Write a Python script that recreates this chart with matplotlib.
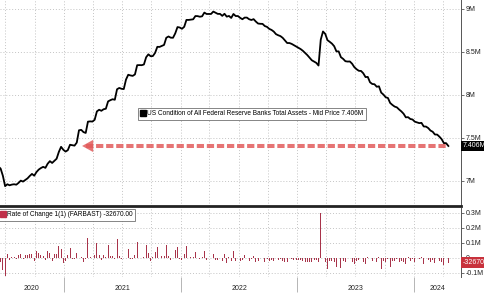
import numpy as np
import pandas as pd
import matplotlib
matplotlib.use('Agg')
import matplotlib.pyplot as plt
import matplotlib.dates as mdates
from matplotlib.lines import Line2D

plt.rcParams['font.family'] = ['Liberation Sans', 'DejaVu Sans']

# Fed total assets, weekly (Wednesdays), in M (= million millions)
assets_2020 = [7.212, 7.168, 7.143, 7.060, 6.940, 6.962, 6.950, 6.958, 6.962,
               6.957, 6.978, 7.004, 6.993, 7.011, 7.030, 7.058, 7.082, 7.061,
               7.103, 7.132, 7.150, 7.164, 7.152, 7.200, 7.230, 7.209,
               7.234, 7.258, 7.337, 7.396, 7.362]
assets_2021 = [7.341, 7.357, 7.420, 7.415,
               7.410, 7.445, 7.588, 7.593,
               7.567, 7.557, 7.688, 7.691, 7.689,
               7.710, 7.807, 7.826, 7.814,
               7.832, 7.838, 7.923, 7.937,
               7.948, 7.942, 8.064, 8.079, 8.069,
               8.066, 8.176, 8.232, 8.224,
               8.219, 8.236, 8.343, 8.344,
               8.343, 8.351, 8.435, 8.469, 8.447,
               8.449, 8.486, 8.556, 8.555,
               8.566, 8.578, 8.661, 8.676,
               8.662, 8.661, 8.712, 8.785, 8.780]
assets_2022 = [8.765, 8.788, 8.868, 8.868,
               8.872, 8.875, 8.913, 8.912,
               8.905, 8.910, 8.953, 8.937, 8.937,
               8.937, 8.965, 8.951, 8.938,
               8.938, 8.915, 8.939, 8.906,
               8.914, 8.891, 8.937, 8.913, 8.913,
               8.892, 8.876, 8.895, 8.895,
               8.876, 8.867, 8.877, 8.849, 8.826,
               8.823, 8.822, 8.797, 8.787,
               8.764, 8.752, 8.733, 8.703,
               8.690, 8.680, 8.660, 8.630, 8.600,
               8.600, 8.590, 8.575, 8.560]
assets_2023 = [8.545, 8.530, 8.510, 8.485,
               8.460, 8.430, 8.400, 8.385,
               8.370, 8.339, 8.639, 8.734, 8.706,
               8.633, 8.614, 8.593, 8.563,
               8.503, 8.503, 8.436, 8.416, 8.389,
               8.385, 8.386, 8.360, 8.320,
               8.296, 8.278, 8.276, 8.249,
               8.205, 8.207, 8.145, 8.125, 8.122,
               8.093, 8.098, 8.025, 8.002,
               7.971, 7.963, 7.905, 7.882,
               7.863, 7.854, 7.829, 7.807, 7.780,
               7.738, 7.740, 7.719, 7.713]
assets_2024 = [7.688, 7.680, 7.671, 7.674, 7.632,
               7.631, 7.614, 7.585, 7.571,
               7.539, 7.538, 7.514, 7.485,
               7.439, 7.4387, 7.40603]

assets = np.array(assets_2020 + assets_2021 + assets_2022 + assets_2023 + assets_2024)
dates = pd.date_range('2020-06-03', periods=len(assets), freq='7D')
change = np.diff(assets)  # weekly rate of change

last_val = assets[-1]
last_chg = change[-1]
arrow_tip = pd.Timestamp('2021-02-18')

top_ticks = [7.0, 7.5, 8.0, 8.5, 9.0]
top_labels = ['7M', '7.5M', '8M', '8.5M', '9M']
low_ticks = [-0.1, 0.0, 0.1, 0.2, 0.3]
low_labels = ['-0.1M', '0', '0.1M', '0.2M', '0.3M']
years = [2020, 2021, 2022, 2023, 2024]

x0 = mdates.date2num(pd.Timestamp('2020-06-15'))
x1 = mdates.date2num(pd.Timestamp('2024-05-25'))

fs = 5

fig = plt.figure(figsize=(4.85, 2.93), dpi=100)
ax = fig.add_axes([0.0, 0.297, 0.9495, 0.703])
ax2 = fig.add_axes([0.0, 0.055, 0.9495, 0.236])

grid_kw = dict(color='#c4c4c4', lw=0.7, ls=(0, (1, 2)), zorder=0)
quarters = pd.date_range('2020-07-01', '2024-04-01', freq='QS')

for a in (ax, ax2):
    a.set_xlim(x0, x1)
    for q in quarters:
        a.axvline(mdates.date2num(q), **grid_kw)
    a.yaxis.tick_right()
    a.tick_params(axis='y', which='both', length=2, width=0.6, color='#555555',
                  labelsize=fs, labelcolor='#222222', pad=1.5)
    for s in ('left', 'top', 'bottom'):
        a.spines[s].set_visible(False)
    a.spines['right'].set_color('#555555')
    a.spines['right'].set_linewidth(0.7)

# top panel
ax.plot(mdates.date2num(dates), assets, color='black', lw=1.3, zorder=3)
ax.set_ylim(6.71, 9.099)
ax.set_yticks(top_ticks)
ax.set_yticklabels(top_labels)
for t in top_ticks:
    ax.axhline(t, **grid_kw)
ax.set_xticks([])
ax.spines['bottom'].set_visible(True)
ax.spines['bottom'].set_color('#222222')
ax.spines['bottom'].set_linewidth(2)

# dashed red arrow back to the level of last value
ax.plot([mdates.date2num(arrow_tip) + 22, mdates.date2num(dates[-1])],
        [last_val, last_val], color='#e25c5c', lw=2.9,
        dashes=(1.8, 0.7), solid_capstyle='butt', zorder=2, alpha=0.85)
ax.annotate('', xy=(mdates.date2num(arrow_tip), last_val),
            xytext=(mdates.date2num(arrow_tip) + 26, last_val),
            arrowprops=dict(arrowstyle='simple,head_length=1.0,head_width=1.1,tail_width=0.45',
                            mutation_scale=8, color='#e25c5c', lw=0, alpha=0.85),
            zorder=2)

ax.text(1.004, last_val, '7.406M', transform=ax.get_yaxis_transform(),
        ha='left', va='center', color='white', fontsize=fs,
        bbox=dict(boxstyle='square,pad=0.25', fc='black', ec='none'),
        clip_on=False)

h1 = Line2D([], [], marker='s', color='black', ls='none', markersize=4)
leg = ax.legend([h1], ['US Condition of All Federal Reserve Banks Total Assets - Mid Price 7.406M'],
                loc='center', bbox_to_anchor=(0.547, 0.447), fontsize=4.7,
                frameon=True, fancybox=False, borderpad=0.4, handletextpad=0.2,
                handlelength=0.7, borderaxespad=0)
leg.get_frame().set_edgecolor('#666666')
leg.get_frame().set_linewidth(0.7)

# lower panel
ax2.bar(mdates.date2num(dates[1:]), change, width=3, color='#a8334a', zorder=3)
ax2.set_ylim(-0.127, 0.333)
ax2.set_yticks(low_ticks)
ax2.set_yticklabels(low_labels)
for t in low_ticks:
    ax2.axhline(t, **grid_kw)
ax2.axhline(-0.127, **grid_kw)

ax2.set_xticks([mdates.date2num(pd.Timestamp(f'{y}-01-01')) for y in years[1:]])
ax2.set_xticklabels([])
centers = []
for y in years:
    a_ = max(mdates.date2num(pd.Timestamp(f'{y}-01-01')), x0)
    b_ = min(mdates.date2num(pd.Timestamp(f'{y + 1}-01-01')), x1)
    centers.append((a_ + b_) / 2)
ax2.set_xticks(centers, minor=True)
ax2.set_xticklabels([str(y) for y in years], minor=True)
ax2.tick_params(axis='x', which='major', length=11, width=0.6, color='#aaaaaa')
ax2.tick_params(axis='x', which='minor', length=0, labelsize=fs,
                labelcolor='#222222', pad=6)

ax2.text(1.004, last_chg, '-32670', transform=ax2.get_yaxis_transform(),
         ha='left', va='center', color='white', fontsize=fs,
         bbox=dict(boxstyle='square,pad=0.25', fc='#c8323c', ec='none'),
         clip_on=False)

h2 = Line2D([], [], marker='s', color='#c0304a', ls='none', markersize=4)
leg2 = ax2.legend([h2], ['Rate of Change 1(1) (FARBAST) -32670.00'],
                  loc='upper left', bbox_to_anchor=(-0.004, 0.985), fontsize=4.7,
                  frameon=True, fancybox=False, borderpad=0.4, handletextpad=0.2,
                  handlelength=0.7, borderaxespad=0)
leg2.get_frame().set_edgecolor('#666666')
leg2.get_frame().set_linewidth(0.7)

fig.savefig('out.png', dpi=100)
